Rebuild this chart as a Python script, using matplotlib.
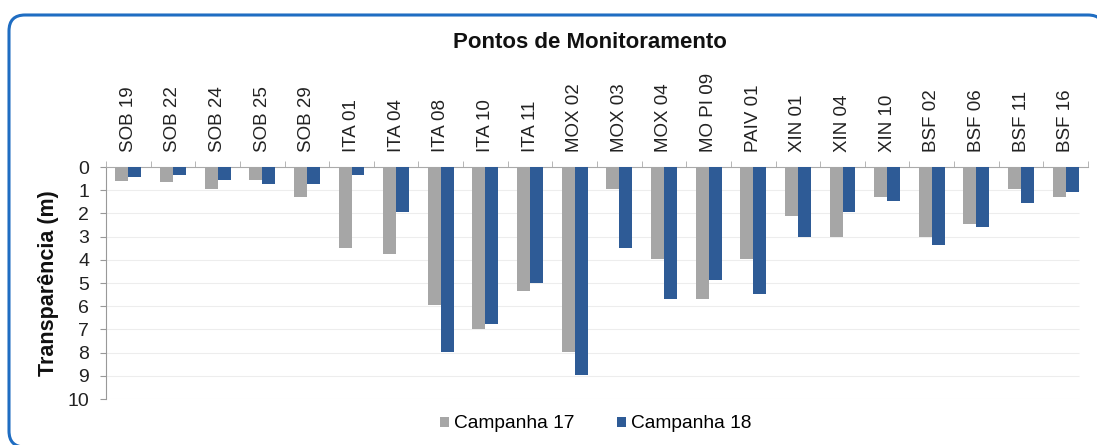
import matplotlib
matplotlib.use("Agg")
import matplotlib.pyplot as plt
import numpy as np
from matplotlib.patches import PathPatch, Patch
from matplotlib.path import Path

plt.rcParams['font.family'] = ['Liberation Sans', 'DejaVu Sans']

categories = ["SOB 19", "SOB 22", "SOB 24", "SOB 25", "SOB 29", "ITA 01", "ITA 04",
              "ITA 08", "ITA 10", "ITA 11", "MOX 02", "MOX 03", "MOX 04", "MO PI 09",
              "PAIV 01", "XIN 01", "XIN 04", "XIN 10", "BSF 02", "BSF 06", "BSF 11", "BSF 16"]
campanha17 = [0.62, 0.63, 0.95, 0.56, 1.28, 3.48, 3.76, 5.95, 6.98, 5.34, 7.96, 0.96,
              3.97, 5.69, 3.97, 2.10, 3.00, 1.28, 3.00, 2.46, 0.96, 1.28]
campanha18 = [0.42, 0.35, 0.56, 0.73, 0.73, 0.35, 1.93, 7.96, 6.77, 4.99, 8.97, 3.48,
              5.69, 4.87, 5.49, 3.00, 1.93, 1.45, 3.36, 2.57, 1.57, 1.06]
y_ticks = list(range(0, 11))

c17 = "#A6A6A6"
c18 = "#2E5B96"

W, H = 1097, 445
fig = plt.figure(figsize=(W/100, H/100), dpi=100)
fig.patch.set_facecolor("white")

# rounded frame, partly running off the picture (pixel coords from top-left)
r = 16
xl, yt, yb, xr = 9, 15, 447, 1104
pts_px = [(xr, yb), (xr, yt + r), (xr, yt), (xr - r, yt), (xl + r, yt), (xl, yt), (xl, yt + r),
          (xl, yb - r), (xl, yb), (xl + r, yb), (xr - r, yb)]
codes = [Path.MOVETO, Path.LINETO, Path.CURVE3, Path.CURVE3, Path.LINETO, Path.CURVE3, Path.CURVE3,
         Path.LINETO, Path.CURVE3, Path.CURVE3, Path.LINETO]
pts = [(px / W, 1 - py / H) for px, py in pts_px]
frame = PathPatch(Path(pts, codes), transform=fig.transFigure, facecolor="none",
                  edgecolor="#1F6DC2", linewidth=2.2, clip_on=False)
fig.patches.append(frame)

ax = fig.add_axes([106/W, 1-399/H, (1088-106)/W, (399-167)/H])
x = np.arange(len(categories))
w = 0.29
ax.bar(x - w/2, campanha17, width=w, color=c17, label="Campanha 17", zorder=3)
ax.bar(x + w/2, campanha18, width=w, color=c18, label="Campanha 18", zorder=3)

ax.set_xlim(-0.5, len(categories) - 0.5)
ax.set_ylim(10, 0)
ax.set_yticks(y_ticks)
ax.set_yticklabels([str(t) for t in y_ticks], fontsize=14, color="#222222")
ax.hlines(y_ticks[1:], -0.5, len(categories) - 0.7, colors="#EDEDED", linewidth=0.8, zorder=1)

ax.xaxis.tick_top()
ax.set_xticks(x)
ax.set_xticklabels(categories, rotation=90, fontsize=13.5, color="#222222")
ax.tick_params(axis='x', which='major', length=0, pad=11)
ax.set_xticks(np.arange(-0.5, len(categories)), minor=True)
ax.tick_params(axis='x', which='minor', length=4, color="#AAAAAA", top=True, bottom=False)
ax.tick_params(axis='y', length=4, color="#999999", pad=8)

for s in ["right", "bottom"]:
    ax.spines[s].set_visible(False)
ax.spines["top"].set_color("#AAAAAA")
ax.spines["left"].set_color("#999999")

ax.set_ylabel("Transparência (m)", fontsize=15.5, fontweight="bold", labelpad=6, color="#111111")

fig.text(590/W, 1-43/H, "Pontos de Monitoramento", ha="center", va="center",
         fontsize=16, fontweight="bold", color="#111111")

handles = [Patch(facecolor=c17, label="Campanha 17"), Patch(facecolor=c18, label="Campanha 18")]
fig.legend(handles=handles, loc="center", bbox_to_anchor=(596/W, 1-424/H), ncol=2,
           frameon=False, fontsize=13.8, handlelength=0.45, handleheight=0.45,
           handletextpad=0.3, columnspacing=2.2)

fig.savefig("out.png", dpi=100, facecolor="white")
